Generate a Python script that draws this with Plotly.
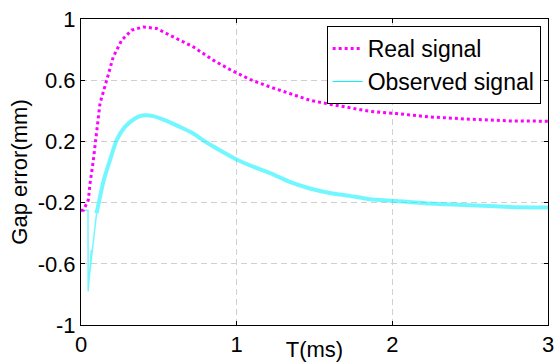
import plotly.graph_objects as go

# Real signal (magenta dotted)
real_t = [0.0, 0.015, 0.047, 0.058, 0.079, 0.101, 0.122, 0.165, 0.207, 0.261, 0.325, 0.40,
          0.486, 0.571, 0.721, 0.849, 0.956, 1.085, 1.213, 1.341, 1.47, 1.598, 1.727, 1.855,
          2.026, 2.24, 2.497, 2.753, 3.0]
real_y = [-0.25, -0.25, -0.184, -0.075, 0.075, 0.252, 0.448, 0.60, 0.752, 0.861, 0.927, 0.948,
          0.938, 0.894, 0.818, 0.731, 0.67, 0.605, 0.556, 0.513, 0.469, 0.443, 0.421, 0.397,
          0.382, 0.36, 0.345, 0.334, 0.332]

# Observed signal (cyan, noisy)
obs_t = [0.0, 0.045, 0.046, 0.066, 0.053, 0.10, 0.146, 0.186, 0.229, 0.282, 0.347, 0.379,
         0.411, 0.464, 0.55, 0.635, 0.721, 0.807, 0.892, 0.999, 1.106, 1.234, 1.341, 1.47,
         1.598, 1.727, 1.855, 2.026, 2.24, 2.497, 2.753, 3.0]
obs_y = [-0.25, -0.25, -0.78, -0.51, -0.69, -0.27, -0.054, 0.077, 0.208, 0.295, 0.35, 0.365,
         0.371, 0.365, 0.334, 0.295, 0.252, 0.193, 0.142, 0.082, 0.035, -0.015, -0.065, -0.108,
         -0.137, -0.156, -0.178, -0.189, -0.206, -0.217, -0.228, -0.232]

x_ticks = [0, 1, 2, 3]
y_ticks = [-1, -0.6, -0.2, 0.2, 0.6, 1]
y_tick_text = ["-1", "-0.6", "-0.2", "0.2", "0.6", "1"]

FONT = "Liberation Sans, Arial, sans-serif"
CYAN = "rgba(0,240,255,0.55)"
split = 6

fig = go.Figure()
fig.add_trace(go.Scatter(x=obs_t[:split], y=obs_y[:split], mode="lines",
                         line=dict(color=CYAN, width=1.5), showlegend=False, hoverinfo="skip"))
fig.add_trace(go.Scatter(x=obs_t[split - 1:], y=obs_y[split - 1:], mode="lines",
                         line=dict(color=CYAN, width=4, shape="spline", smoothing=0.6),
                         showlegend=False, hoverinfo="skip"))
fig.add_trace(go.Scatter(x=real_t, y=real_y, mode="lines", name="Real signal",
                         line=dict(color="#ff00ff", width=3, dash="3px,3px")))
fig.add_trace(go.Scatter(x=[None], y=[None], mode="lines", name="Observed signal",
                         line=dict(color="#00e5ee", width=1)))

axis_common = dict(
    showline=True, linecolor="black", linewidth=1, mirror="ticks",
    ticks="inside", ticklen=4, tickcolor="black",
    showgrid=True, gridcolor="#d0d0d0", gridwidth=1, griddash="6px,4px",
    zeroline=False, tickfont=dict(family=FONT, size=22, color="black"),
    ticklabeloverflow="allow",
)

fig.update_xaxes(range=[0, 3], tickvals=x_ticks, ticktext=[str(v) for v in x_ticks],
                 title=dict(text="T(ms)", font=dict(family=FONT, size=22, color="black"), standoff=0),
                 **axis_common)
fig.update_yaxes(range=[-1, 1], tickvals=y_ticks, ticktext=y_tick_text,
                 title=dict(text="Gap error(mm)", font=dict(family=FONT, size=22, color="black"), standoff=3),
                 **axis_common)

fig.update_layout(
    width=554, height=362,
    margin=dict(l=81, r=6, t=19, b=37, autoexpand=False),
    paper_bgcolor="white", plot_bgcolor="white",
    font=dict(family=FONT, size=22, color="black"),
    legend=dict(x=0.526, y=0.977, xanchor="left", yanchor="top",
                bgcolor="white", bordercolor="black", borderwidth=1,
                font=dict(family=FONT, size=23, color="black"),
                tracegroupgap=0, itemwidth=30),
)

fig.write_html("out.html", config={"displayModeBar": False},
               post_script="document.body.style.margin='0';document.body.style.overflow='hidden';")
